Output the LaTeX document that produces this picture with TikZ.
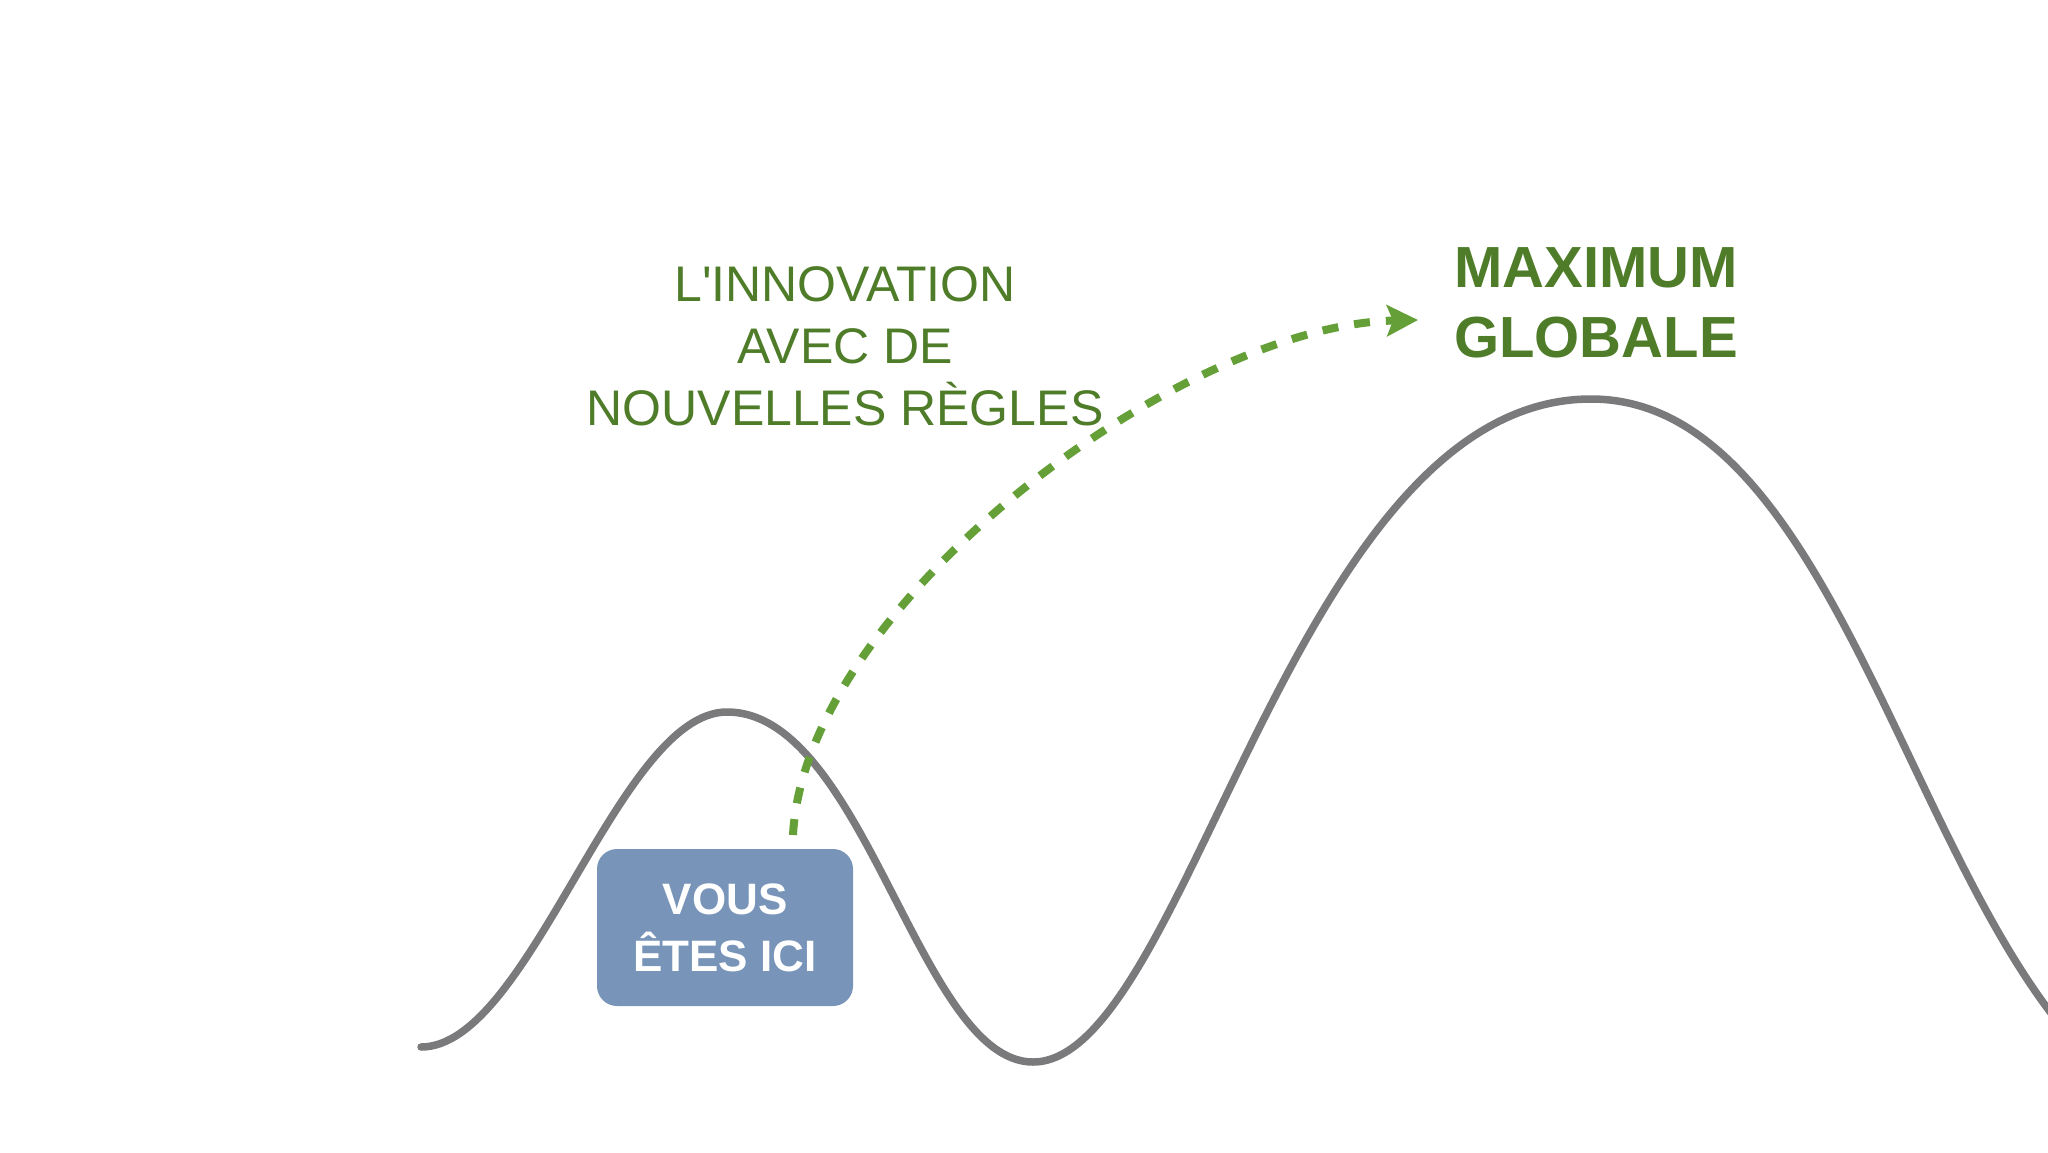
\documentclass[tikz,border=0pt]{standalone}
\usepackage{fontspec}
\setmainfont{Liberation Sans}
\usetikzlibrary{arrows.meta}
\definecolor{crayon}{RGB}{122,122,124}
\definecolor{vertfonce}{RGB}{78,124,40}
\definecolor{vertclair}{RGB}{100,160,55}
\definecolor{bleuici}{RGB}{120,148,185}

\begin{document}
\begin{tikzpicture}[x=1pt,y=-1pt,
  colline/.style={draw=crayon,line width=7.5pt,line cap=round,line join=round},
  saut/.style={draw=vertclair,line width=8pt,dash pattern=on 16pt off 16pt,
    -{Stealth[length=31pt,width=31pt,inset=6pt]}},
  ici/.style={fill=bleuici,rounded corners=20pt,minimum width=256pt,minimum height=157pt,
    inner sep=0pt,align=center,text=white,font=\fontsize{44}{57}\selectfont\bfseries},
  titre/.style={inner sep=0pt,align=center,text=vertfonce}]
\useasboundingbox (0,0) rectangle (2048,1152);
\fill[white] (0,0) rectangle (2048,1152);
% la colline
\draw[colline] (421,1047) .. controls (530,1047) and (618,712) .. (727,712)
  .. controls (864.5,712) and (919.5,1062) .. (1033,1062)
  .. controls (1187.5,1062) and (1292.5,399) .. (1591,399)
  .. controls (1887,399) and (1936,1125) .. (2235,1125);
\node[ici] (ici) at (725,927.5) {VOUS\\ÊTES ICI};
\node[titre,font=\fontsize{50}{62}\selectfont] (innov) at (845,346)
  {L\textquotesingle INNOVATION\\AVEC DE\\NOUVELLES RÈGLES};
\node[titre,font=\fontsize{58}{70}\selectfont\bfseries] (maxglob) at (1596,302.5)
  {MAXIMUM\\GLOBALE};
\coordinate (depart) at (793,835);
\coordinate (arrivee) at (1418,320);
\draw[saut] (depart) .. controls (805,605) and (1180,325) .. (arrivee);
\end{tikzpicture}
\end{document}
